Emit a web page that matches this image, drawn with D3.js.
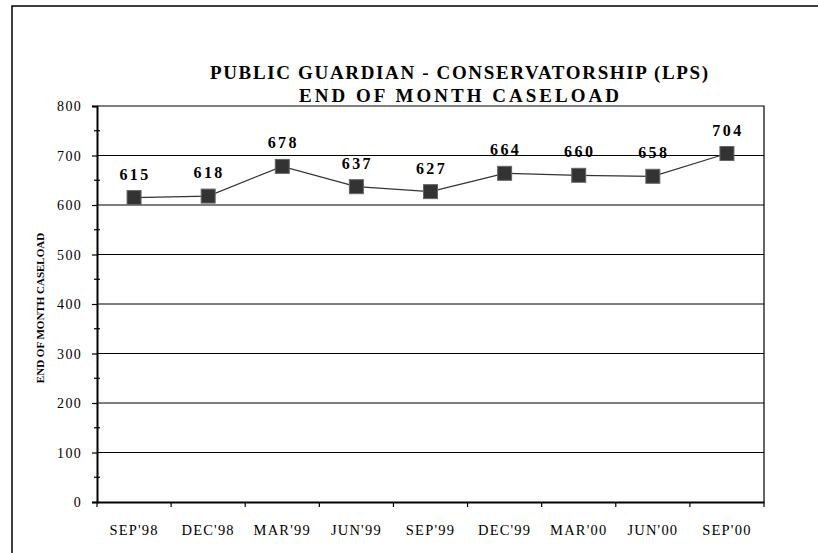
<!DOCTYPE html>
<html>
<head>
<meta charset="utf-8">
<script src="https://cdn.jsdelivr.net/npm/d3@7"></script>
<style>
  html, body { margin: 0; padding: 0; background: #fff; }
  svg { display: block; }
  text { font-family: "Liberation Serif", "Times New Roman", serif; fill: #000; }
</style>
</head>
<body>
<svg id="chart" width="818" height="553"></svg>
<script>
const categories = ["SEP'98", "DEC'98", "MAR'99", "JUN'99", "SEP'99", "DEC'99", "MAR'00", "JUN'00", "SEP'00"];
const caseload = [615, 618, 678, 637, 627, 664, 660, 658, 704];
const yTicks = [0, 100, 200, 300, 400, 500, 600, 700, 800];
const yMinorTicks = [50, 150, 250, 350, 450, 550, 650, 750];
const titleLines = ["PUBLIC GUARDIAN - CONSERVATORSHIP (LPS)", "END OF MONTH CASELOAD"];
const yAxisTitle = "END OF MONTH CASELOAD";

const svg = d3.select("#chart");
const plot = { left: 97, right: 764, top: 106, bottom: 502 };

const x = d3.scaleBand().domain(categories).range([plot.left, plot.right]).padding(0);
const y = d3.scaleLinear().domain([0, 800]).range([plot.bottom, plot.top]);

// outer frame
svg.append("path")
  .attr("d", `M12,553 L12,6 L818,6`)
  .attr("fill", "none").attr("stroke", "#000").attr("stroke-width", 1.5);

// title
const titleWidths = [498, 320];
titleLines.forEach((t, i) => {
  svg.append("text")
    .attr("x", 459).attr("y", 79 + i * 23)
    .attr("text-anchor", "middle")
    .attr("textLength", titleWidths[i]).attr("lengthAdjust", "spacing")
    .style("font-weight", "bold").style("font-size", "19px")
    .text(t);
});

// gridlines
svg.append("g").selectAll("line").data(yTicks.filter(d => d > 0 && d < 800)).join("line")
  .attr("x1", plot.left).attr("x2", plot.right)
  .attr("y1", d => y(d)).attr("y2", d => y(d))
  .attr("stroke", "#000").attr("stroke-width", 1);

// plot frame top/right
svg.append("path")
  .attr("d", `M${plot.left},${y(800)} L${plot.right},${y(800)} L${plot.right},${plot.bottom}`)
  .attr("fill", "none").attr("stroke", "#000").attr("stroke-width", 1.2);

// y axis
const yAxis = d3.axisLeft(y).tickValues(yTicks).tickSize(5).tickPadding(10).tickFormat(d3.format("d"));
const gy = svg.append("g").attr("transform", `translate(${plot.left},0)`).call(yAxis);
gy.select(".domain").attr("stroke-width", 2);
gy.selectAll(".tick line").attr("stroke-width", 1.2);
gy.selectAll("text").style("font-size", "14px").style("letter-spacing", "1.3px")
  .style("font-family", "'Liberation Serif', serif").attr("dy", "0.35em");
// minor ticks crossing the axis
svg.append("g").selectAll("line").data(yMinorTicks).join("line")
  .attr("x1", plot.left - 3).attr("x2", plot.left + 3)
  .attr("y1", d => y(d)).attr("y2", d => y(d))
  .attr("stroke", "#000").attr("stroke-width", 1.2);

// x axis
const xAxis = d3.axisBottom(x).tickSize(0).tickPadding(23);
const gx = svg.append("g").attr("transform", `translate(0,${plot.bottom})`).call(xAxis);
gx.select(".domain").attr("stroke-width", 2);
gx.selectAll("text").style("font-size", "14.5px").style("letter-spacing", "1.2px")
  .style("font-family", "'Liberation Serif', serif");
// category boundary ticks
const bounds = categories.map(c => x(c)).concat([plot.right]);
svg.append("g").selectAll("line").data(bounds).join("line")
  .attr("x1", d => d).attr("x2", d => d)
  .attr("y1", plot.bottom).attr("y2", plot.bottom + 5)
  .attr("stroke", "#000").attr("stroke-width", 1.2);

// y axis title
svg.append("text")
  .attr("transform", `translate(44,${(plot.top + plot.bottom) / 2 + 4}) rotate(-90)`)
  .attr("text-anchor", "middle")
  .style("font-weight", "bold").style("font-size", "11px")
  .text(yAxisTitle);

// line
const cx = d => x(d) + x.bandwidth() / 2;
const line = d3.line().x((d, i) => cx(categories[i])).y(d => y(d));
svg.append("path").datum(caseload)
  .attr("d", line).attr("fill", "none").attr("stroke", "#333").attr("stroke-width", 1.2);

// markers
const ms = 14;
svg.append("g").selectAll("rect").data(caseload).join("rect")
  .attr("x", (d, i) => cx(categories[i]) - ms / 2)
  .attr("y", d => y(d) - ms / 2)
  .attr("width", ms).attr("height", ms)
  .attr("fill", "#333").attr("stroke", "#666").attr("stroke-width", 1);

// data labels
svg.append("g").selectAll("text").data(caseload).join("text")
  .attr("x", (d, i) => cx(categories[i]) + 1)
  .attr("y", d => y(d) - 18)
  .attr("text-anchor", "middle")
  .style("font-weight", "bold").style("font-size", "16px").style("letter-spacing", "2.4px")
  .text(d => d);
</script>
</body>
</html>
